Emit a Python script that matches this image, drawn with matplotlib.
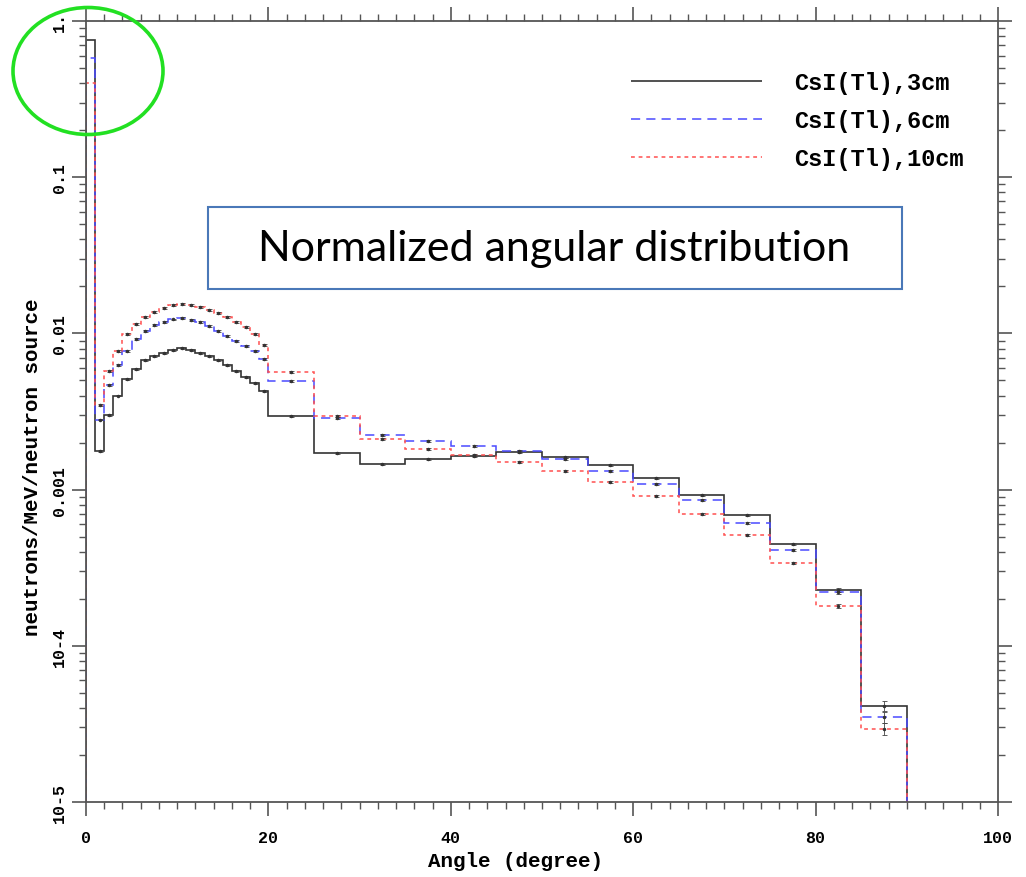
import numpy as np
import matplotlib
matplotlib.use('Agg')
import matplotlib.pyplot as plt
from matplotlib.patches import Ellipse, Rectangle
from matplotlib.ticker import FixedLocator, MultipleLocator, NullFormatter

# Bordes de los bins en grados (1 grado hasta 20, luego 5 grados)
edges = list(range(0, 21)) + list(range(25, 91, 5))

csi_3cm = [0.756, 0.00177, 0.0030, 0.0040, 0.0051, 0.00592, 0.00676, 0.00716,
           0.0075, 0.00785, 0.00807, 0.00785, 0.00749, 0.00716, 0.00676, 0.00628,
           0.00575, 0.00526, 0.00481, 0.00428,
           0.00296, 0.001715, 0.001459, 0.001571, 0.001641, 0.001741, 0.001618,
           0.001436, 0.001186, 0.000923, 0.000687, 0.000449, 0.000228, 4.12e-5]

csi_6cm = [0.577, 0.0028, 0.00467, 0.00628, 0.00771, 0.0092, 0.01035, 0.01132,
           0.01183, 0.01228, 0.01256, 0.01219, 0.01183, 0.01115, 0.01035, 0.00962,
           0.00894, 0.0083, 0.00771, 0.00686,
           0.00496, 0.00287, 0.00224, 0.00205, 0.0019, 0.00177, 0.001571,
           0.001315, 0.001086, 0.000857, 0.000611, 0.00041, 0.000221, 3.5e-5]

csi_10cm = [0.401, 0.00348, 0.00575, 0.00771, 0.00991, 0.01148, 0.01274, 0.01371,
            0.01455, 0.01521, 0.01543, 0.01521, 0.01476, 0.01412, 0.01351, 0.01274,
            0.01183, 0.01099, 0.00991, 0.00843,
            0.00566, 0.00296, 0.00211, 0.00182, 0.001667, 0.001502, 0.001315,
            0.001119, 0.00091, 0.000698, 0.000512, 0.000339, 0.00018, 2.93e-5]

# Errores relativos estimados
err_3cm = [0.01] * 20 + [0.01, 0.01, 0.01, 0.01, 0.01, 0.012, 0.012,
                         0.012, 0.015, 0.015, 0.02, 0.02, 0.025, 0.076]
err_6cm = [0.01] * 20 + [0.01, 0.01, 0.01, 0.01, 0.01, 0.012, 0.012,
                         0.012, 0.015, 0.015, 0.02, 0.02, 0.025, 0.08]
err_10cm = [0.01] * 20 + [0.01, 0.01, 0.01, 0.01, 0.01, 0.012, 0.012,
                          0.012, 0.015, 0.015, 0.02, 0.022, 0.03, 0.09]

labels = ['CsI(Tl),3cm', 'CsI(Tl),6cm', 'CsI(Tl),10cm']
y_ticks = [1e-5, 1e-4, 1e-3, 1e-2, 1e-1, 1]
y_ticklabels = ['10-5', '10-4', '0.001', '0.01', '0.1', '1.']

mono = 'Liberation Mono'
baseline = 1e-5

fig = plt.figure(figsize=(10.26, 8.78), dpi=100)
ax = fig.add_axes([86 / 1026, 1 - 803 / 878, 912 / 1026, 781 / 878])
ax.set_yscale('log')
ax.set_xlim(0, 100)
ax.set_ylim(1e-5, 1)

edges = np.array(edges, dtype=float)
centers = 0.5 * (edges[:-1] + edges[1:])

series = [
    (csi_3cm, err_3cm, '#333333', (0, ()), 1.2),
    (csi_6cm, err_6cm, '#4a4aff', (0, (6, 4)), 1.1),
    (csi_10cm, err_10cm, '#ff5050', (0, (2.5, 2.5)), 1.1),
]
for (vals, rel, col, ls, lw), lab in zip(series, labels):
    vals = np.array(vals)
    ax.stairs(vals, edges, baseline=baseline, color=col, linestyle=ls, lw=lw, label=lab)
    ax.errorbar(centers[1:], vals[1:], yerr=vals[1:] * np.array(rel[1:]), fmt='o',
                ms=1.5, color='#333333', ecolor='#444444', elinewidth=0.6,
                capsize=1.8, capthick=0.6, lw=0)

# Ejes y ticks
for sp in ax.spines.values():
    sp.set_color('#555555')
    sp.set_linewidth(1.3)
ax.xaxis.set_major_locator(MultipleLocator(20))
ax.xaxis.set_minor_locator(MultipleLocator(2))
ax.yaxis.set_major_locator(FixedLocator(y_ticks))
ax.set_yticklabels(y_ticklabels, rotation=90, va='center',
                   fontfamily=mono, fontweight='bold', fontsize=12)
ax.yaxis.set_minor_formatter(NullFormatter())
ax.tick_params(which='both', direction='out', top=True, right=True, color='#555555')
ax.tick_params(which='major', length=10, width=1.2)
ax.tick_params(which='minor', length=5, width=1.0)
ax.tick_params(axis='x', labelsize=12, pad=10)
for t in ax.get_xticklabels():
    t.set_fontfamily(mono)
    t.set_fontweight('bold')

fig.text(516 / 1026, 1 - 862 / 878, 'Angle (degree)', ha='center', va='center',
         fontfamily=mono, fontweight='bold', fontsize=15)
fig.text(33 / 1026, 1 - 467 / 878, 'neutrons/MeV/neutron source', rotation=90,
         ha='center', va='center', fontfamily=mono, fontweight='bold', fontsize=15)

# Leyenda
ax.legend(loc='upper left', bbox_to_anchor=(610 / 1026, 1 - 51 / 878),
          bbox_transform=fig.transFigure, frameon=False, handlelength=5.55,
          handletextpad=1.35, labelspacing=0.64,
          prop={'family': mono, 'weight': 'bold', 'size': 17})

# Cuadro de texto
fig.patches.append(Rectangle((208 / 1026, 1 - 290 / 878), 694 / 1026, 82 / 878,
                             transform=fig.transFigure, facecolor='white',
                             edgecolor='#4a78b8', lw=1.5))
fig.text(554 / 1026, 1 - 249 / 878, 'Normalized angular distribution',
         ha='center', va='center', fontfamily='Lato', fontsize=31)

# Circulo verde
fig.patches.append(Ellipse((88 / 1026, 1 - 72 / 878), 150 / 1026, 127 / 878,
                           transform=fig.transFigure, fill=False,
                           edgecolor='#22e022', lw=2.6))

fig.savefig('out.png', dpi=100)
